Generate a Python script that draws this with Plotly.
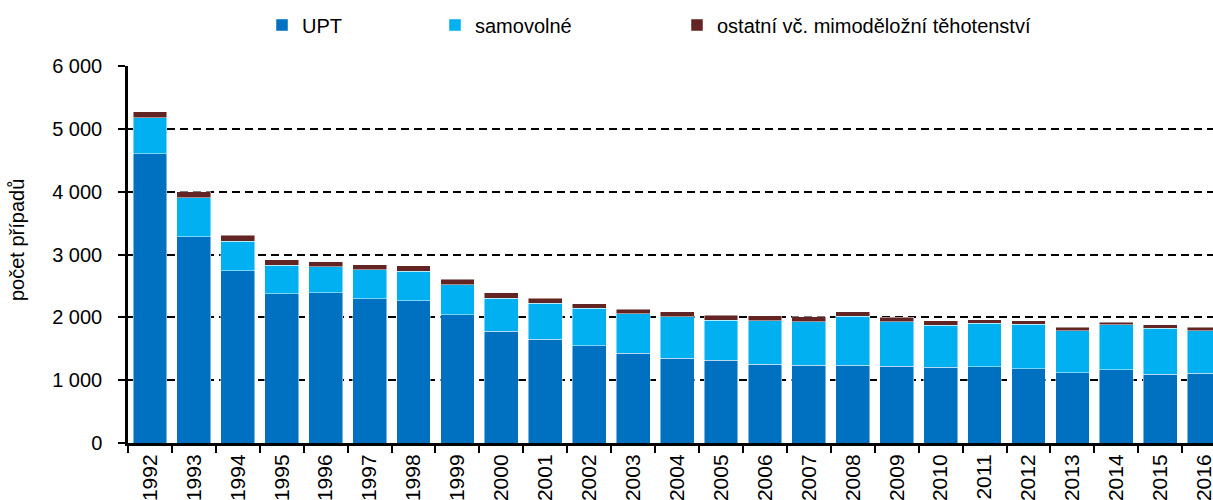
import plotly.graph_objects as go

years = [str(y) for y in range(1992, 2017)]
upt = [4600, 3280, 2740, 2375, 2390, 2295, 2265, 2045, 1780, 1650, 1545, 1430, 1350, 1320,
       1255, 1240, 1240, 1220, 1205, 1210, 1180, 1120, 1165, 1095, 1110]
samovolne = [580, 625, 470, 455, 415, 460, 470, 475, 520, 575, 600, 625, 660, 630,
             690, 690, 775, 710, 670, 695, 710, 670, 715, 730, 675]
ostatni = [95, 90, 95, 85, 80, 80, 85, 90, 95, 75, 75, 75, 80, 85,
           80, 80, 75, 70, 70, 60, 55, 55, 45, 60, 60]

series = [
    ("UPT", upt, "#0070C0", "legend", 262),
    ("samovolné", samovolne, "#00B0F0", "legend2", 435),
    ("ostatní vč. mimoděložní těhotenství", ostatni, "#632523", "legend3", 677),
]

FONT = "Liberation Sans, Arial, sans-serif"
W, H = 1213, 500

fig = go.Figure()
legends = {}
for name, vals, color, lg, lx in series:
    fig.add_trace(go.Bar(
        x=years, y=vals, name=name, legend=lg,
        marker=dict(color=color, line=dict(color="rgba(255,255,255,0.6)", width=0.8)),
    ))
    legends[lg] = dict(
        x=lx / W, xref="container", xanchor="left",
        y=1 - 25 / H, yref="container", yanchor="middle",
        orientation="h", bgcolor="rgba(0,0,0,0)", borderwidth=0,
        font=dict(family=FONT, size=20, color="#000"),
        itemwidth=30,
    )

fig.update_layout(
    barmode="stack",
    bargap=0.23,
    width=W, height=H,
    margin=dict(l=128, r=0, t=66, b=57, autoexpand=False),
    plot_bgcolor="white", paper_bgcolor="white",
    font=dict(family=FONT, color="#000"),
    separators=", ",
    showlegend=True,
    **legends,
)

fig.update_xaxes(
    type="category",
    range=[-0.5, 24.2],
    automargin=False,
    showline=True, linecolor="black", linewidth=3,
    ticks="outside", tickson="boundaries", ticklen=7, tickwidth=2, tickcolor="black",
    tickangle=-90,
    tickfont=dict(family=FONT, size=21, color="#000"),
    showgrid=False,
)

fig.update_yaxes(
    range=[0, 6000],
    automargin=False,
    tickvals=[0, 1000, 2000, 3000, 4000, 5000, 6000],
    tickformat=",d",
    showline=True, linecolor="black", linewidth=2.5,
    ticks="outside", ticklen=7, tickwidth=2, tickcolor="black",
    tickfont=dict(family=FONT, size=20, color="#000"),
    ticklabelstandoff=12,
    showgrid=True, gridcolor="black", gridwidth=2, griddash="8px,5px",
    zeroline=False,
)

fig.add_annotation(
    text="počet případů", textangle=-90,
    xref="paper", x=-(128 - 17) / (W - 128), xanchor="center",
    yref="paper", y=(443 - 240) / 377, yanchor="middle",
    showarrow=False,
    font=dict(family=FONT, size=20, color="#000"),
)

fig.write_html(
    "out.html",
    config={"displayModeBar": False},
    post_script="document.body.style.margin='0';document.body.style.overflow='hidden';",
)
